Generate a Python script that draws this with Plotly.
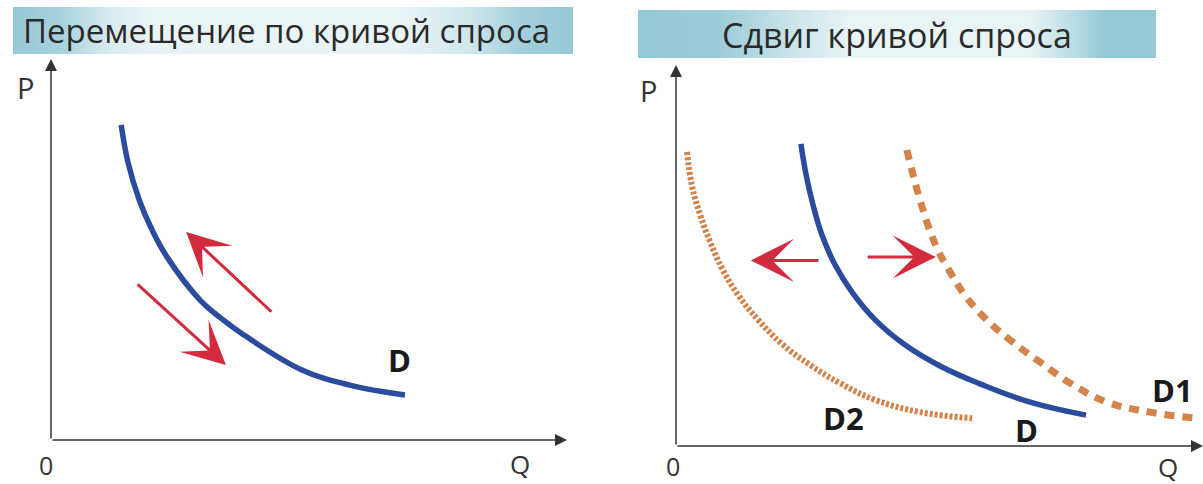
import numpy as np
import plotly.graph_objects as go

W, H = 1203, 484

# --- данные (единицы Q / P, начало координат в 0) ---
# левый график: одна кривая спроса D
left_d_q = [1.36, 1.49, 1.71, 1.96, 2.25, 2.89, 3.28, 3.66, 4.83, 5.79, 6.86]
left_d_p = [8.27, 7.30, 6.30, 5.51, 4.80, 3.67, 3.21, 2.83, 1.86, 1.44, 1.18]

# стрелки движения по кривой (хвост -> острие)
left_arrow_tail_q = [4.30, 1.65]
left_arrow_tail_p = [3.33, 4.12]
left_arrow_tip_q = [2.62, 3.39]
left_arrow_tip_p = [5.46, 1.97]

# правый график: D, D1 (рост спроса), D2 (падение спроса)
right_d_q = [2.37, 2.47, 2.60, 2.77, 3.02, 3.34, 3.78, 4.35, 5.01, 5.77, 6.72, 7.78]
right_d_p = [7.93, 7.11, 6.33, 5.54, 4.75, 4.04, 3.31, 2.65, 2.10, 1.63, 1.15, 0.81]

d1_q = [4.38, 4.50, 4.63, 4.78, 4.97, 5.20, 5.48, 5.86, 6.34, 6.91, 7.48, 8.18, 8.99, 9.89]
d1_p = [7.77, 7.11, 6.46, 5.80, 5.14, 4.57, 3.96, 3.36, 2.78, 2.20, 1.65, 1.15, 0.89, 0.73]

d2_q = [0.21, 0.30, 0.46, 0.65, 0.87, 1.18, 1.56, 2.01, 2.54, 3.11, 3.78, 4.63, 5.62]
d2_p = [7.72, 6.85, 6.06, 5.35, 4.67, 3.96, 3.31, 2.68, 2.13, 1.65, 1.21, 0.89, 0.73]

right_arrow_tail_q = [2.73, 3.61]
right_arrow_tail_p = [4.87, 4.96]
right_arrow_tip_q = [1.42, 4.93]
right_arrow_tip_p = [4.87, 4.96]

# подписи кривых
left_labels = ["D"]
left_labels_q = [6.76]
left_labels_p = [2.10]
right_labels = ["D", "D1", "D2"]
right_labels_q = [6.66, 9.43, 3.17]
right_labels_p = [0.42, 1.47, 0.73]

titles = ["Перемещение по кривой спроса", "Сдвиг кривой спроса"]

BLUE = "#2B4C9E"
ORANGE = "#D4834B"
RED = "#D42A3E"
AXIS = "#333333"
FONT = "Open Sans"

fig = go.Figure()

fig.add_trace(go.Scatter(x=left_d_q, y=left_d_p, mode="lines",
                         line=dict(color=BLUE, width=5.5, shape="spline", smoothing=1.1),
                         xaxis="x", yaxis="y", hoverinfo="skip"))
fig.add_trace(go.Scatter(x=d2_q, y=d2_p, mode="lines",
                         line=dict(color=ORANGE, width=6, shape="spline", smoothing=1.2, dash="3px,2px"),
                         xaxis="x2", yaxis="y2", hoverinfo="skip"))
fig.add_trace(go.Scatter(x=d1_q, y=d1_p, mode="lines",
                         line=dict(color=ORANGE, width=7, shape="spline", smoothing=1.2, dash="10px,8px"),
                         xaxis="x2", yaxis="y2", hoverinfo="skip"))
fig.add_trace(go.Scatter(x=right_d_q, y=right_d_p, mode="lines",
                         line=dict(color=BLUE, width=5.5, shape="spline", smoothing=1.2),
                         xaxis="x2", yaxis="y2", hoverinfo="skip"))

annotations = []


def arrow(xr, yr, tail_q, tail_p, tip_q, tip_p, color, width, size, head):
    annotations.append(dict(xref=xr, yref=yr, axref=xr, ayref=yr, x=tip_q, y=tip_p, ax=tail_q, ay=tail_p,
                            text="", showarrow=True, arrowhead=head, arrowsize=size, arrowwidth=width,
                            arrowcolor=color))


def label(xr, yr, q, p, text, size=28, bold=False, color="#333333"):
    annotations.append(dict(xref=xr, yref=yr, x=q, y=p, text=f"<b>{text}</b>" if bold else text,
                            showarrow=False, xanchor="center", yanchor="middle", borderpad=0,
                            font=dict(family=FONT, size=size, color=color)))


# оси со стрелками
arrow("x", "y", 0, 0, 10, 0, AXIS, 1.5, 1.6, 2)
arrow("x", "y", 0, 0, 0, 10, AXIS, 1.5, 1.6, 2)
arrow("x2", "y2", 0, 0, 10, 0, AXIS, 1.5, 1.6, 2)
arrow("x2", "y2", 0, 0, 0, 10, AXIS, 1.5, 1.6, 2)

for i in range(len(left_arrow_tip_q)):
    arrow("x", "y", left_arrow_tail_q[i], left_arrow_tail_p[i], left_arrow_tip_q[i], left_arrow_tip_p[i],
          RED, 3, 2.4, 3)
for i in range(len(right_arrow_tip_q)):
    arrow("x2", "y2", right_arrow_tail_q[i], right_arrow_tail_p[i], right_arrow_tip_q[i], right_arrow_tip_p[i],
          RED, 3, 2.4, 3)

# подписи осей
label("x", "y", -0.50, 9.24, "P", 29)
label("x", "y", -0.10, -0.66, "0", 25)
label("x", "y", 9.09, -0.64, "Q", 26)
label("x2", "y2", -0.53, 9.34, "P", 29)
label("x2", "y2", -0.06, -0.52, "0", 25)
label("x2", "y2", 9.34, -0.54, "Q", 26)

for t, q, p in zip(left_labels, left_labels_q, left_labels_p):
    label("x", "y", q, p, t, 31, True, "#1A1A1A")
for t, q, p in zip(right_labels, right_labels_q, right_labels_p):
    label("x2", "y2", q, p, t, 31, True, "#1A1A1A")

# заголовки
annotations.append(dict(xref="paper", yref="paper", x=21 / W, y=1 - 30 / H, text=titles[0], showarrow=False,
                        xanchor="left", yanchor="middle", font=dict(family=FONT, size=33, color="#2B2B2B")))
annotations.append(dict(xref="paper", yref="paper", x=897 / W, y=1 - 35 / H, text=titles[1], showarrow=False,
                        xanchor="center", yanchor="middle", font=dict(family=FONT, size=34, color="#2B2B2B")))

# плашки заголовков с градиентом
shapes = []
blue_rgb = np.array([150, 201, 214])
white_rgb = np.array([238, 247, 249])


def gradient_box(x0, x1, y0, y1, px, pw):
    xs = np.arange(x0, x1, 3)
    for x in xs:
        w = np.interp(x + 1.5, px, pw)
        c = white_rgb + w * (blue_rgb - white_rgb)
        shapes.append(dict(type="rect", xref="paper", yref="paper", layer="below",
                           x0=x / W, x1=min(x + 3.4, x1) / W, y0=1 - y1 / H, y1=1 - y0 / H,
                           fillcolor="rgb(%d,%d,%d)" % tuple(c.astype(int)), line=dict(width=0)))


gradient_box(13, 573, 7, 54, [13, 60, 110, 150, 400, 470, 520, 573], [1, .8, .25, .06, .06, .35, .85, 1])
gradient_box(638, 1156, 10, 58, [638, 715, 800, 850, 1030, 1075, 1105, 1156], [1, .95, .35, .06, .06, .6, 1, 1])

# пиксели на единицу и положение начала координат
LX0, LY0, LSX, LSY = 51, 440, 51.6, 38.1
RX0, RY0, RSX, RSY = 676, 446, 52.7, 38.1
lxr, lyr = [-0.8, 10.3], [-1.1, 10.2]
rxr, ryr = [-0.8, (W - RX0) / RSX], [-0.99, 10.2]

fig.update_layout(
    width=W, height=H, autosize=False,
    margin=dict(l=0, r=0, t=0, b=0, pad=0),
    paper_bgcolor="white", plot_bgcolor="white",
    showlegend=False,
    xaxis=dict(domain=[(LX0 + lxr[0] * LSX) / W, (LX0 + lxr[1] * LSX) / W], range=lxr, anchor="y",
               visible=False, fixedrange=True),
    yaxis=dict(domain=[1 - (LY0 - lyr[0] * LSY) / H, 1 - (LY0 - lyr[1] * LSY) / H], range=lyr, anchor="x",
               visible=False, fixedrange=True),
    xaxis2=dict(domain=[(RX0 + rxr[0] * RSX) / W, 1.0], range=rxr, anchor="y2",
                visible=False, fixedrange=True),
    yaxis2=dict(domain=[max(0, 1 - (RY0 - ryr[0] * RSY) / H), 1 - (RY0 - ryr[1] * RSY) / H], range=ryr,
                anchor="x2", visible=False, fixedrange=True),
    annotations=annotations,
    shapes=shapes,
)

fig.write_html("out.html", config={"displayModeBar": False},
               post_script="document.body.style.margin='0';")
